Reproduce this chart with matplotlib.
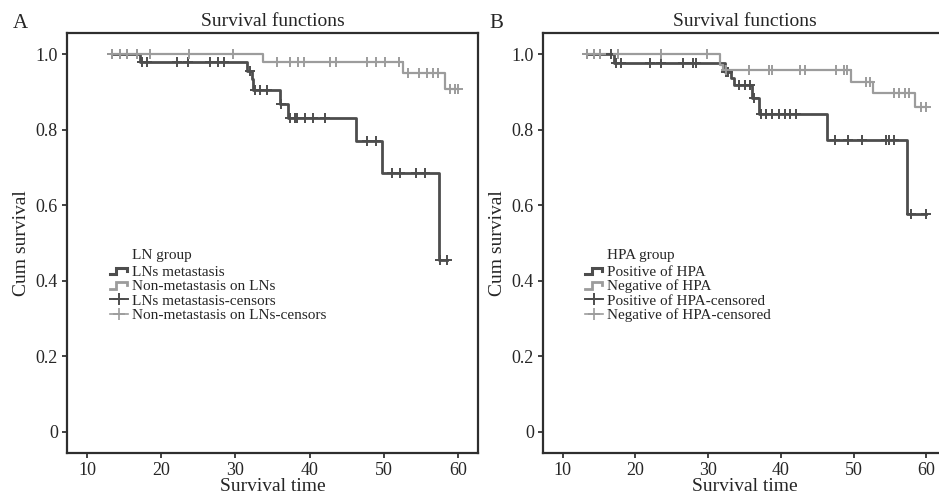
import numpy as np
import matplotlib
matplotlib.use("Agg")
import matplotlib.pyplot as plt
from matplotlib.lines import Line2D
from matplotlib.legend_handler import HandlerBase

plt.rcParams['font.family'] = ['Liberation Serif', 'DejaVu Serif']

# ---------------- data ----------------
# Panel A: LN group
a_start = 13.3
a_met_event_t = [17.1, 31.5, 32.2, 32.4, 36.0, 37.1, 46.3, 49.7, 57.5]
a_met_surv    = [0.978, 0.956, 0.934, 0.904, 0.867, 0.830, 0.770, 0.686, 0.456]
a_met_cens    = [13.3, 14.4, 15.4, 16.8, 17.4, 18.1, 22.1, 23.6, 26.6, 27.7, 28.4,
                 32.0, 32.6, 33.3, 34.2, 36.2, 37.4, 38.0, 38.3, 39.4, 40.5, 42.1,
                 47.7, 49.0, 51.1, 52.2, 54.3, 55.6, 57.6, 58.5]
a_non_event_t = [33.7, 52.6, 58.2]
a_non_surv    = [0.978, 0.951, 0.909]
a_non_cens    = [13.3, 14.4, 15.4, 16.8, 18.5, 23.7, 29.7, 35.6, 37.4, 38.5, 39.2,
                 42.7, 43.6, 47.7, 49.0, 50.2, 52.0, 53.3, 54.7, 55.8, 56.7, 57.3,
                 58.9, 59.6, 60.0]

# Panel B: HPA group
b_start = 13.4
b_pos_event_t = [17.0, 32.3, 33.2, 33.5, 36.0, 37.0, 46.3, 57.3]
b_pos_surv    = [0.976, 0.953, 0.938, 0.918, 0.885, 0.841, 0.773, 0.578]
b_pos_cens    = [13.4, 14.3, 15.2, 16.6, 17.3, 18.0, 22.0, 23.5, 26.5, 27.9, 28.3,
                 32.5, 32.8, 34.2, 35.1, 35.8, 36.3, 37.3, 38.0, 38.8, 39.7, 40.5,
                 41.3, 42.1, 47.4, 49.2, 51.2, 54.5, 54.9, 55.6, 57.9, 60.0]
b_neg_event_t = [31.6, 32.0, 49.7, 52.7, 58.4]
b_neg_surv    = [0.972, 0.958, 0.927, 0.898, 0.859]
b_neg_cens    = [13.4, 14.3, 15.2, 17.6, 23.5, 29.8, 32.4, 35.6, 38.3, 38.8, 42.6,
                 43.3, 47.6, 48.7, 49.1, 51.7, 52.2, 55.6, 56.3, 57.0, 57.6,
                 59.3, 60.0]

x_ticks = [10, 20, 30, 40, 50, 60]
y_ticks = [0, 0.2, 0.4, 0.6, 0.8, 1.0]
y_tick_labels = ["0", "0.2", "0.4", "0.6", "0.8", "1.0"]

panels = [
    dict(letter="A", legend_title="LN group",
         labels=["LNs metastasis", "Non-metastasis on LNs",
                 "LNs metastasis-censors", "Non-metastasis on LNs-censors"],
         start=a_start,
         groups=[(a_met_event_t, a_met_surv, a_met_cens),
                 (a_non_event_t, a_non_surv, a_non_cens)]),
    dict(letter="B", legend_title="HPA group",
         labels=["Positive of HPA", "Negative of HPA",
                 "Positive of HPA-censored", "Negative of HPA-censored"],
         start=b_start,
         groups=[(b_pos_event_t, b_pos_surv, b_pos_cens),
                 (b_neg_event_t, b_neg_surv, b_neg_cens)]),
]

# ---------------- style ----------------
DARK = "#4d4d4d"
LIGHT = "#9c9c9c"
TXT = "#262626"
colors = [DARK, LIGHT]
lws = [2.0, 1.6]

W, H = 939, 501
fig = plt.figure(figsize=(W / 100, H / 100), dpi=100)
fig.patch.set_facecolor("white")


class StepHandler(HandlerBase):
    def create_artists(self, legend, orig_handle, xdescent, ydescent,
                       width, height, fontsize, trans):
        xs = np.array([0.0, 0.35, 0.35, 0.9, 0.9]) * width - xdescent
        ys = np.array([0.15, 0.15, 0.75, 0.75, 0.45]) * height - ydescent
        ln = Line2D(xs, ys, color=orig_handle.get_color(),
                    lw=orig_handle.get_linewidth(), solid_joinstyle="miter",
                    transform=trans)
        return [ln]


def surv_at(t, event_t, surv):
    vals = np.concatenate([[1.0], surv])
    idx = np.searchsorted(np.asarray(event_t), t, side="right")
    return vals[idx]


# axes positions in pixels: (left, bottom_px_from_top, width)
ax_px = [(67, 411), (543, 403)]
top_px, bot_px = 33, 453

for (left, width), p in zip(ax_px, panels):
    ax = fig.add_axes([left / W, 1 - bot_px / H, width / W, (bot_px - top_px) / H])
    for (ev, sv, cens), c, lw in zip(p["groups"], colors, lws):
        ev = list(ev); sv = list(sv)
        end = max(cens)
        xs = [p["start"]] + ev + [end]
        ys = [1.0] + sv + [sv[-1]]
        ax.step(xs, ys, where="post", color=c, lw=lw, zorder=3)
        cy = surv_at(np.asarray(cens), ev, sv)
        ax.plot(cens, cy, linestyle="none", marker="+", markersize=6.5,
                markeredgewidth=1.4, color=c, zorder=4)

    ax.set_xlim(7.3, 62.7)
    ax.set_ylim(-0.056, 1.056)
    ax.set_xticks(x_ticks)
    ax.set_xticklabels([str(v) for v in x_ticks])
    ax.set_yticks(y_ticks)
    ax.set_yticklabels(y_tick_labels)
    ax.tick_params(axis="both", labelsize=13, length=3.5, width=1.3,
                   color="#333333", labelcolor=TXT, pad=3)
    for s in ax.spines.values():
        s.set_linewidth(1.6)
        s.set_color("#2e2e2e")
    ax.set_title("Survival functions", fontsize=14, color=TXT, pad=5)
    ax.set_xlabel("Survival time", fontsize=14, color=TXT, labelpad=-1)
    ax.set_ylabel("Cum survival", fontsize=14, color=TXT, labelpad=4)

    handles = [Line2D([], [], color=DARK, lw=2.2),
               Line2D([], [], color=LIGHT, lw=2.0),
               Line2D([], [], color=DARK, lw=1.4, marker="+", markersize=8,
                      markeredgewidth=1.4),
               Line2D([], [], color=LIGHT, lw=1.2, marker="+", markersize=8,
                      markeredgewidth=1.2)]
    hmap = {handles[0]: StepHandler(), handles[1]: StepHandler()}
    leg = ax.legend(handles, p["labels"], handler_map=hmap,
                    loc="upper left",
                    bbox_to_anchor=((110 - 67) / 411, (453 - 265) / 420),
                    frameon=False, fontsize=11, handlelength=1.2,
                    handletextpad=0.25, labelspacing=0.05, borderpad=0,
                    borderaxespad=0)
    for t in leg.get_texts():
        t.set_color(TXT)
    ax.text((132 - 67) / 411, (453 - 255) / 420, p["legend_title"],
            transform=ax.transAxes, fontsize=11, color=TXT,
            ha="left", va="center")

    fig.text((left - 47) / W, 1 - 23 / H, p["letter"], fontsize=15,
             color=TXT, ha="center", va="center")

fig.savefig("out.png", dpi=100, facecolor="white")
